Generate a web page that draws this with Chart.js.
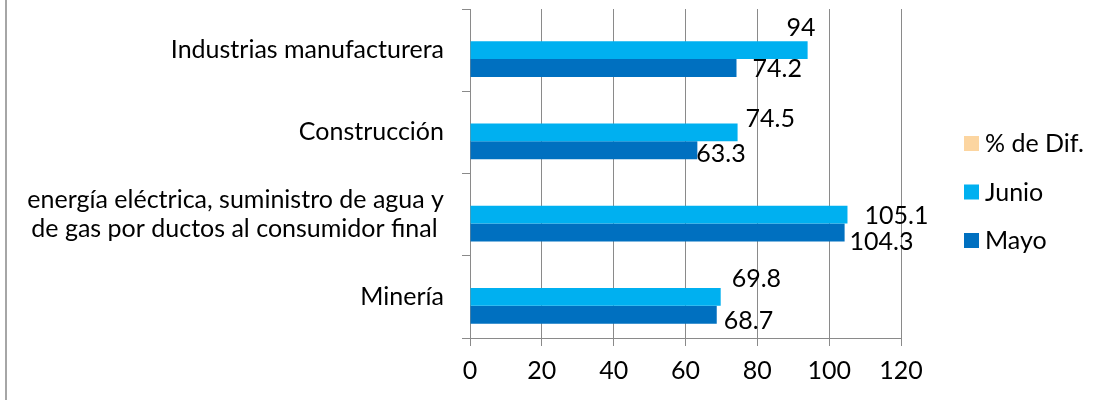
<!DOCTYPE html>
<html><head><meta charset="utf-8">
<script src="https://cdn.jsdelivr.net/npm/chart.js@4/dist/chart.umd.min.js"></script>
<style>html,body{margin:0;padding:0;background:#fff;} #wrap{width:1096px;height:400px;position:relative;}</style>
</head><body><div id="wrap"><canvas id="c" width="1096" height="400"></canvas></div>
<script>
const categories = [
  'Industrias manufacturera',
  'Construcción',
  ['energía eléctrica, suministro de agua y', 'de gas por ductos al consumidor final '],
  'Minería'
];
const seriesNames = ['% de Dif.', 'Junio', 'Mayo'];
const difValues = [null, null, null, null];
const junioValues = [94, 74.5, 105.1, 69.8];
const mayoValues = [74.2, 63.3, 104.3, 68.7];
const xTicks = [0, 20, 40, 60, 80, 100, 120];

const colors = ['#FCD5A0', '#00B0F0', '#0070C0'];
const FONT = 'Lato';
const FSIZE = 25;
const gridColor = '#8a8a8a';

const labelPlugin = {
  id: 'valueLabels',
  afterDatasetsDraw(chart, args, opts) {
    const ctx = chart.ctx;
    ctx.save();
    ctx.font = FSIZE + 'px ' + FONT;
    ctx.fillStyle = '#000';
    ctx.textAlign = 'left';
    ctx.textBaseline = 'alphabetic';
    opts.series.forEach(s => {
      const meta = chart.getDatasetMeta(s.index);
      const vals = chart.data.datasets[s.index].data;
      meta.data.forEach((bar, j) => {
        if (vals[j] == null) return;
        const off = s.offsets[j];
        ctx.fillText(String(vals[j]), bar.x + off[0], bar.y + off[1]);
      });
    });
    ctx.restore();
  }
};

const legendPlugin = {
  id: 'sideLegend',
  afterDraw(chart, args, opts) {
    const ctx = chart.ctx;
    const ca = chart.chartArea;
    ctx.save();
    ctx.fillStyle = '#a6a6a6';
    ctx.fillRect(5, 0, 2, chart.height);
    ctx.font = FSIZE + 'px ' + FONT;
    ctx.textAlign = 'left';
    ctx.textBaseline = 'alphabetic';
    const x0 = ca.right + 63;
    const yStart = 143.5;
    const step = 48.5;
    chart.data.datasets.forEach((ds, i) => {
      const cy = yStart + i * step;
      ctx.fillStyle = ds.backgroundColor;
      ctx.fillRect(x0, cy - 7.5, 15, 15);
      ctx.fillStyle = '#000';
      ctx.fillText(ds.label, x0 + 21, cy + 8.5);
    });
    ctx.restore();
  }
};

new Chart(document.getElementById('c'), {
  type: 'bar',
  data: {
    labels: categories,
    datasets: [
      { label: seriesNames[0], data: difValues, backgroundColor: colors[0] },
      { label: seriesNames[1], data: junioValues, backgroundColor: colors[1] },
      { label: seriesNames[2], data: mayoValues, backgroundColor: colors[2] }
    ]
  },
  options: {
    indexAxis: 'y',
    responsive: false,
    animation: false,
    devicePixelRatio: 1,
    categoryPercentage: 0.656,
    barPercentage: 1.0,
    layout: { padding: { top: 9, right: 195, left: 0, bottom: 0 } },
    plugins: {
      legend: { display: false },
      tooltip: { enabled: false },
      valueLabels: {
        series: [
          { index: 1, offsets: [[-21, -14], [8, -5], [17, 9.5], [11, -10]] },
          { index: 2, offsets: [[16, 9], [-1, 12], [5, 17.5], [7, 14]] }
        ]
      }
    },
    scales: {
      x: {
        min: xTicks[0],
        max: xTicks[xTicks.length - 1],
        afterBuildTicks: s => { s.ticks = xTicks.map(v => ({ value: v })); },
        afterFit: s => { s.height = 62; s.paddingLeft = 0; s.paddingRight = 0; },
        grid: { color: gridColor, tickLength: 8, drawTicks: true },
        border: { color: gridColor },
        ticks: { color: '#000', padding: 10, font: { family: FONT, size: FSIZE } }
      },
      y: {
        afterFit: s => { s.width = 470; s.paddingTop = 0; s.paddingBottom = 0; },
        grid: { drawOnChartArea: false, color: gridColor, tickLength: 8, drawTicks: true },
        border: { color: gridColor },
        ticks: { color: '#000', padding: 18, font: { family: FONT, size: FSIZE, lineHeight: 1.16 } }
      }
    }
  },
  plugins: [labelPlugin, legendPlugin]
});
</script></body></html>
